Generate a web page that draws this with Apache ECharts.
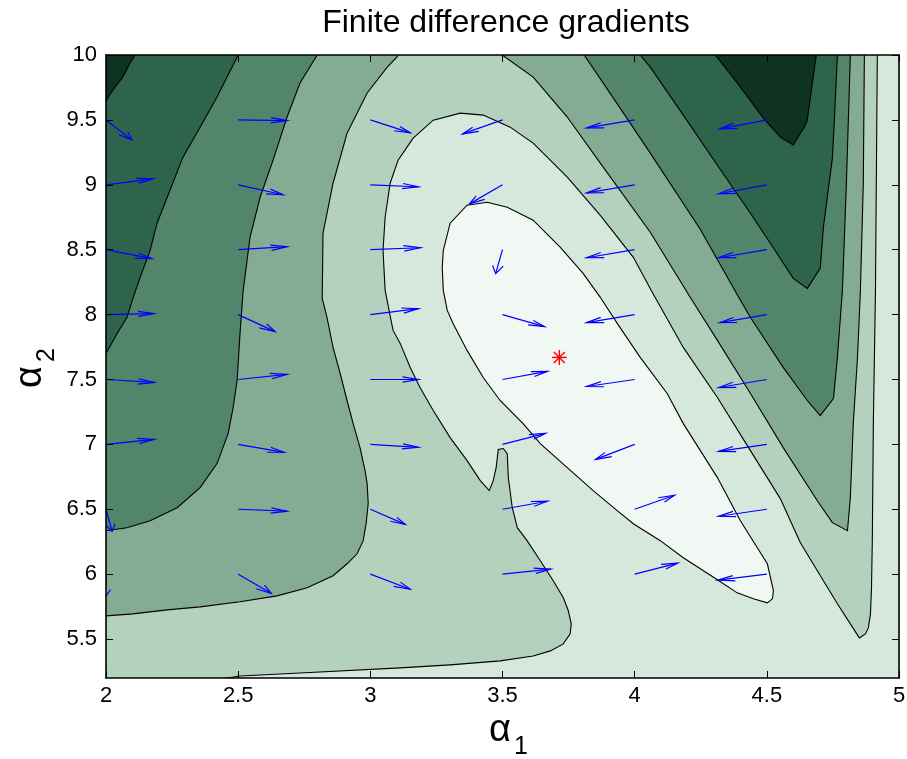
<!DOCTYPE html>
<html lang="en">
<head>
<meta charset="utf-8">
<title>Finite difference gradients</title>
<script src="https://cdn.jsdelivr.net/npm/echarts@6.0.0/dist/echarts.min.js"></script>
<style>
  html, body { margin: 0; padding: 0; background: #ffffff; }
  #chart { width: 907px; height: 759px; }
</style>
</head>
<body>
<div id="chart"></div>
<script>
// ---- axes ----
const xRange = [2, 5];
const yRange = [5.2, 10];
const xTickValues = [2, 2.5, 3, 3.5, 4, 4.5, 5];
const yTickValues = [5.5, 6, 6.5, 7, 7.5, 8, 8.5, 9, 9.5, 10];

// ---- filled contour bands, highest level (darkest) to lowest (lightest) ----
const bandColors = ['#0f3321', '#2e644b', '#53856b', '#84ac94', '#b4d1be', '#d6e8dc', '#f1f7f3'];

// ---- contour lines, points as [alpha1, alpha2] ----
// level 1: top-left corner and the upper-right trough
const level1Left = [[2.110, 10], [2.091, 9.938], [2.064, 9.830], [2.034, 9.753], [2.008, 9.676], [2.0, 9.637]];
const level1Right = [[4.305, 10], [4.388, 9.784], [4.487, 9.514], [4.551, 9.367], [4.600, 9.306], [4.646, 9.460], [4.653, 9.498], [4.687, 10]];
// level 2
const level2Left = [[2.500, 10], [2.458, 9.830], [2.420, 9.676], [2.356, 9.444], [2.291, 9.213], [2.242, 8.958], [2.193, 8.704], [2.167, 8.495], [2.129, 8.287], [2.102, 8.125], [2.079, 7.978], [2.042, 7.855], [2.0, 7.70]];
const level2Right = [[4.021, 10], [4.059, 9.907], [4.184, 9.537], [4.313, 9.151], [4.438, 8.781], [4.543, 8.457], [4.600, 8.279], [4.653, 8.202], [4.702, 8.356], [4.714, 8.673], [4.748, 9.205], [4.756, 9.522], [4.767, 10]];
// level 3
const level3Left = [[2.799, 10], [2.734, 9.784], [2.685, 9.522], [2.632, 9.190], [2.583, 8.904], [2.545, 8.596], [2.519, 8.187], [2.507, 7.855], [2.496, 7.492], [2.481, 7.284], [2.462, 7.083], [2.420, 6.852], [2.356, 6.667], [2.269, 6.512], [2.167, 6.412], [2.079, 6.358], [2.0, 6.335]];
const level3Right = [[3.809, 10], [3.945, 9.591], [4.059, 9.244], [4.248, 8.657], [4.400, 8.110], [4.438, 7.978], [4.562, 7.593], [4.653, 7.338], [4.702, 7.222], [4.752, 7.353], [4.767, 7.670], [4.786, 8.187], [4.801, 9.012], [4.816, 10]];
// level 4
const level4Left = [[3.105, 10], [3.101, 9.985], [3.064, 9.907], [2.988, 9.707], [2.912, 9.398], [2.859, 9.012], [2.821, 8.627], [2.818, 8.125], [2.836, 7.978], [2.859, 7.747], [2.886, 7.546], [2.912, 7.338], [2.935, 7.160], [2.961, 6.975], [2.980, 6.798], [2.988, 6.698], [2.992, 6.543], [2.984, 6.389], [2.973, 6.258], [2.950, 6.157], [2.912, 6.080], [2.859, 5.988], [2.761, 5.895], [2.647, 5.833], [2.507, 5.787], [2.356, 5.748], [2.231, 5.725], [2.102, 5.694], [2.0, 5.679]];
const level4Right = [[3.499, 10], [3.616, 9.830], [3.745, 9.522], [3.870, 9.167], [4.059, 8.634], [4.210, 8.133], [4.313, 7.801], [4.438, 7.392], [4.562, 6.975], [4.691, 6.566], [4.748, 6.397], [4.805, 6.335], [4.816, 6.590], [4.827, 7.160], [4.843, 7.670], [4.854, 8.187], [4.865, 9.012], [4.869, 10]];
// level 5: from the bottom edge, round the valley, down to the right-hand tip and up to the top
const level5 = [[2.431, 5.19], [2.507, 5.216], [2.734, 5.239], [3.113, 5.278], [3.302, 5.301], [3.491, 5.332], [3.616, 5.370], [3.681, 5.409], [3.730, 5.463], [3.756, 5.540], [3.760, 5.617], [3.749, 5.718], [3.730, 5.818], [3.692, 5.949], [3.643, 6.103], [3.593, 6.258], [3.556, 6.358], [3.537, 6.512], [3.522, 6.744], [3.518, 6.929], [3.503, 6.968], [3.484, 6.960], [3.476, 6.821], [3.465, 6.721], [3.450, 6.644], [3.416, 6.721], [3.366, 6.875], [3.302, 7.052], [3.238, 7.261], [3.188, 7.438], [3.151, 7.593], [3.124, 7.724], [3.113, 7.778], [3.086, 7.878], [3.071, 8.032], [3.056, 8.187], [3.048, 8.495], [3.056, 8.750], [3.075, 9.012], [3.105, 9.190], [3.162, 9.360], [3.238, 9.498], [3.340, 9.552], [3.427, 9.537], [3.529, 9.444], [3.616, 9.321], [3.745, 9.059], [3.870, 8.765], [3.995, 8.441], [4.067, 8.171], [4.184, 7.747], [4.313, 7.361], [4.438, 6.952], [4.551, 6.582], [4.589, 6.412], [4.627, 6.242], [4.691, 6.026], [4.767, 5.772], [4.850, 5.509], [4.873, 5.540], [4.884, 5.586], [4.892, 5.694], [4.896, 5.895], [4.899, 6.258], [4.903, 7.160], [4.911, 8.187], [4.918, 10]];
// level 6: closed loop round the minimum
const level6 = [[3.442, 8.866], [3.366, 8.843], [3.302, 8.704], [3.276, 8.495], [3.272, 8.364], [3.276, 8.187], [3.291, 8.032], [3.313, 7.932], [3.366, 7.724], [3.427, 7.515], [3.491, 7.338], [3.578, 7.160], [3.643, 7.006], [3.745, 6.821], [3.843, 6.644], [3.934, 6.489], [3.995, 6.389], [4.097, 6.258], [4.184, 6.127], [4.313, 5.957], [4.388, 5.856], [4.449, 5.810], [4.502, 5.779], [4.521, 5.810], [4.525, 5.872], [4.502, 6.080], [4.464, 6.204], [4.400, 6.412], [4.313, 6.744], [4.184, 7.160], [4.123, 7.392], [4.021, 7.670], [3.934, 7.932], [3.870, 8.133], [3.805, 8.318], [3.718, 8.519], [3.616, 8.727], [3.518, 8.827], [3.442, 8.866]];

// ---- finite difference gradient arrows ----
const quiverX = [2, 2.5, 3, 3.5, 4, 4.5];
const quiverY = [6, 6.5, 7, 7.5, 8, 8.5, 9, 9.5];
// one row per alpha1 column, entries follow quiverY
const quiverU = [
  [-0.003, 0.023, 0.182, 0.182, 0.182, 0.174, 0.178, 0.098],
  [0.125, 0.185, 0.174, 0.185, 0.140, 0.185, 0.170, 0.185],
  [0.151, 0.132, 0.182, 0.182, 0.182, 0.189, 0.182, 0.151],
  [0.182, 0.170, 0.163, 0.170, 0.159, -0.026, -0.125, -0.151],
  [0.163, 0.151, -0.148, -0.182, -0.182, -0.182, -0.182, -0.182],
  [-0.185, -0.182, -0.182, -0.182, -0.178, -0.182, -0.182, -0.178]
];
const quiverV = [
  [-0.177, -0.170, 0.039, -0.023, 0.008, -0.069, 0.046, -0.154],
  [-0.147, -0.015, -0.062, 0.039, -0.131, 0.023, -0.077, -0.005],
  [-0.116, -0.116, -0.023, 0.000, 0.046, 0.015, -0.015, -0.100],
  [0.039, 0.062, 0.085, 0.062, -0.093, -0.185, -0.147, -0.108],
  [0.085, 0.108, -0.116, -0.054, -0.062, -0.062, -0.062, -0.062],
  [-0.046, -0.054, -0.054, -0.062, -0.062, -0.062, -0.069, -0.069]
];

// location of the minimum
const optimum = [3.715, 7.67];

// ---- build the filled regions (painted from darkest to lightest) ----
const [x0, x1] = xRange;
const [y0, y1] = yRange;
const fills = [
  { color: bandColors[1], pts: [[x0, y0], [x0, y1], [x1, y1], [x1, y0]] },
  { color: bandColors[0], pts: [[x0, y1]].concat(level1Left) },
  { color: bandColors[0], pts: level1Right.slice() },
  { color: bandColors[2], pts: [[x0, y0]].concat(level2Left.slice().reverse(), level2Right, [[x1, y1], [x1, y0]]) },
  { color: bandColors[3], pts: [[x0, y0]].concat(level3Left.slice().reverse(), level3Right, [[x1, y1], [x1, y0]]) },
  { color: bandColors[4], pts: [[x0, y0]].concat(level4Left.slice().reverse(), level4Right, [[x1, y1], [x1, y0]]) },
  { color: bandColors[5], pts: level5.concat([[x1, y1], [x1, y0]]) },
  { color: bandColors[6], pts: level6.slice() }
];
const contourLines = [level1Left, level1Right, level2Left, level2Right, level3Left, level3Right, level4Left, level4Right, level5, level6];

const arrows = [];
quiverX.forEach((ax, i) => {
  quiverY.forEach((ay, j) => {
    arrows.push([ax, ay, quiverU[i][j], quiverV[i][j]]);
  });
});

const chart = echarts.init(document.getElementById('chart'), null, { renderer: 'canvas' });

const FONT = '"Liberation Sans", Arial, Helvetica, sans-serif';
const axisLineStyle = { color: '#000000', width: 1.6 };

function makeX(pos, showLabel) {
  return {
    type: 'value', position: pos, min: x0, max: x1, interval: 0.5, z: 10,
    axisLine: { show: true, onZero: false, lineStyle: axisLineStyle },
    axisTick: { show: true, inside: true, length: 7, lineStyle: { color: '#000', width: 1 } },
    axisLabel: {
      show: showLabel, color: '#000', fontSize: 22, fontFamily: FONT, margin: 7,
      formatter: v => String(v)
    },
    splitLine: { show: false }
  };
}
function makeY(pos, showLabel) {
  return {
    type: 'value', position: pos, min: y0, max: y1, z: 10,
    axisLine: { show: true, onZero: false, lineStyle: axisLineStyle },
    axisTick: { show: true, inside: true, length: 7, customValues: yTickValues, lineStyle: { color: '#000', width: 1 } },
    axisLabel: {
      show: showLabel, color: '#000', fontSize: 22, fontFamily: FONT, margin: 9,
      customValues: yTickValues, formatter: v => String(v)
    },
    splitLine: { show: false }
  };
}

const option = {
  backgroundColor: '#ffffff',
  animation: false,
  grid: { left: 106, top: 55, width: 793, height: 623, outerBoundsMode: 'none', containLabel: false },
  xAxis: [makeX('bottom', true), makeX('top', false)],
  yAxis: [makeY('left', true), makeY('right', false)],
  graphic: [
    { type: 'text', x: 506, y: 23, silent: true,
      style: { text: 'Finite difference gradients', font: '32px ' + FONT, fill: '#000',
               textAlign: 'center', textVerticalAlign: 'middle', align: 'center', verticalAlign: 'middle' } },
    { type: 'text', x: 500, y: 750, silent: true,
      style: { text: 'α', font: '38px ' + FONT, fill: '#000',
               textAlign: 'center', textVerticalAlign: 'bottom', align: 'center', verticalAlign: 'bottom' } },
    { type: 'text', x: 514, y: 760, silent: true,
      style: { text: '1', font: '25px ' + FONT, fill: '#000',
               textAlign: 'left', textVerticalAlign: 'bottom', align: 'left', verticalAlign: 'bottom' } },
    { type: 'text', x: 50, y: 377, rotation: Math.PI / 2, silent: true,
      style: { text: 'α', font: '38px ' + FONT, fill: '#000',
               textAlign: 'center', textVerticalAlign: 'bottom', align: 'center', verticalAlign: 'bottom' } },
    { type: 'text', x: 60, y: 362, rotation: Math.PI / 2, silent: true,
      style: { text: '2', font: '25px ' + FONT, fill: '#000',
               textAlign: 'left', textVerticalAlign: 'bottom', align: 'left', verticalAlign: 'bottom' } }
  ],
  series: [
    {
      name: 'bands', type: 'custom', coordinateSystem: 'cartesian2d', clip: true, silent: true, z: 1,
      data: fills.map((f, i) => [x0, y0, i]),
      renderItem: (params, api) => {
        const f = fills[params.dataIndex];
        return { type: 'polygon', shape: { points: f.pts.map(p => api.coord(p)) },
                 style: { fill: f.color, stroke: null } };
      }
    },
    {
      name: 'contours', type: 'custom', coordinateSystem: 'cartesian2d', clip: true, silent: true, z: 2,
      data: contourLines.map((c, i) => [x0, y0, i]),
      renderItem: (params, api) => {
        const c = contourLines[params.dataIndex];
        return { type: 'polyline', shape: { points: c.map(p => api.coord(p)) },
                 style: { fill: null, stroke: '#000000', lineWidth: 1.1 } };
      }
    },
    {
      name: 'gradients', type: 'custom', coordinateSystem: 'cartesian2d', clip: true, silent: true, z: 3,
      data: arrows,
      renderItem: (params, api) => {
        const x = api.value(0), y = api.value(1), u = api.value(2), v = api.value(3);
        const a = 0.33, b = 0.33;
        const tip = [x + u, y + v];
        const h1 = [x + u - a * (u + b * v), y + v - a * (v - b * u)];
        const h2 = [x + u - a * (u - b * v), y + v - a * (v + b * u)];
        const st = { fill: null, stroke: '#0000ff', lineWidth: 1.2 };
        return { type: 'group', children: [
          { type: 'polyline', shape: { points: [api.coord([x, y]), api.coord(tip)] }, style: st },
          { type: 'polyline', shape: { points: [api.coord(h1), api.coord(tip), api.coord(h2)] }, style: st }
        ] };
      }
    },
    {
      name: 'minimum', type: 'custom', coordinateSystem: 'cartesian2d', clip: true, silent: true, z: 4,
      data: [optimum],
      renderItem: (params, api) => {
        const c = api.coord([api.value(0), api.value(1)]);
        const r = 7.5, d = 5.5;
        const st = { stroke: '#ff0000', lineWidth: 1.4, fill: null };
        const seg = (dx, dy) => ({ type: 'line', shape: { x1: c[0] - dx, y1: c[1] - dy, x2: c[0] + dx, y2: c[1] + dy }, style: st });
        return { type: 'group', children: [seg(r, 0), seg(0, r), seg(d, d), seg(d, -d)] };
      }
    }
  ]
};

chart.setOption(option);
</script>
</body>
</html>
